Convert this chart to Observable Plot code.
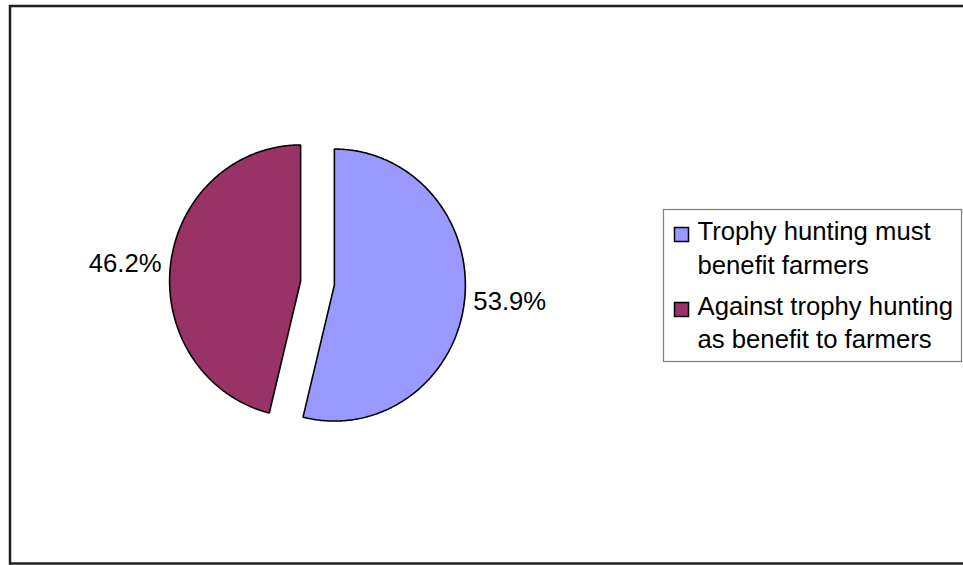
<!DOCTYPE html>
<html><head><meta charset="utf-8">
<script src="https://cdn.jsdelivr.net/npm/d3@7"></script>
<script src="https://cdn.jsdelivr.net/npm/@observablehq/plot@0.6"></script>
<style>body{margin:0;background:#fff} svg{display:block}</style>
</head><body><div id="chart"></div>
<script>
const categories = ["Trophy hunting must benefit farmers", "Against trophy hunting as benefit to farmers"];
const legendLabels = ["Trophy hunting must\nbenefit farmers", "Against trophy hunting\nas benefit to farmers"];
const values = [53.9, 46.2];
const colors = ["#9999FF", "#993366"];

// layout
const W = 963, H = 565;
const cx = 317, cy = 282.5, rx = 131, ry = 136, explode = 17, labelDist = 140;
const fontSize = 25.7;

const total = d3.sum(values);
let acc = 0;
const slices = values.map((v, i) => {
  const a0 = acc / total * 2 * Math.PI; acc += v;
  const a1 = acc / total * 2 * Math.PI;
  const mid = (a0 + a1) / 2;
  const ox = cx + explode * Math.sin(mid), oy = cy - explode * Math.cos(mid);
  return {i, cat: categories[i], v, a0, a1, mid, ox, oy};
});
const pts = [];
for (const s of slices) {
  pts.push({cat: s.cat, x: s.ox, y: s.oy});
  const n = Math.ceil((s.a1 - s.a0) / (Math.PI / 360));
  for (let k = 0; k <= n; k++) {
    const a = s.a0 + (s.a1 - s.a0) * k / n;
    pts.push({cat: s.cat, x: s.ox + rx * Math.sin(a), y: s.oy - ry * Math.cos(a)});
  }
  pts.push({cat: s.cat, x: s.ox, y: s.oy});
}
const labels = slices.map(s => ({
  x: s.ox + labelDist * Math.sin(s.mid),
  y: s.oy - labelDist * Math.cos(s.mid),
  anchor: Math.sin(s.mid) >= 0 ? "start" : "end",
  text: s.v.toFixed(1) + "%"
}));

const legX = 663.5, legY = 209.5, legX2 = 961.5, legY2 = 361.5;
const legend = categories.map((c, i) => ({
  cat: c, label: legendLabels[i],
  sx1: 674.5, sx2: 688.5, sy1: 227.5 + i * 75, sy2: 241.5 + i * 75,
  tx: 697, ty: 273 + i * 74.5
}));

const chart = Plot.plot({
  width: W, height: H,
  margin: 0,
  style: {fontFamily: "'Liberation Sans', Arial, sans-serif", background: "white"},
  x: {domain: [0, W], range: [0, W], axis: null},
  y: {domain: [0, H], range: [0, H], axis: null},
  color: {domain: categories, range: colors},
  marks: [
    Plot.rect([{x1: 10, y1: 6, x2: 990, y2: 563.5}], {x1: "x1", x2: "x2", y1: "y1", y2: "y2", fill: "none", stroke: "#1e1e1e", strokeWidth: 2.5}),
    Plot.line(pts, {x: "x", y: "y", z: "cat", fill: "cat", stroke: "black", strokeWidth: 1.6, strokeLinejoin: "miter", curve: "linear"}),
    Plot.text(labels.filter(d => d.anchor === "start"), {x: "x", y: "y", text: "text", textAnchor: "start", fontSize, fill: "black"}),
    Plot.text(labels.filter(d => d.anchor === "end"), {x: "x", y: "y", text: "text", textAnchor: "end", fontSize, fill: "black"}),
    Plot.rect([{x1: legX, y1: legY, x2: legX2, y2: legY2}], {x1: "x1", x2: "x2", y1: "y1", y2: "y2", fill: "white", stroke: "#7f7f7f", strokeWidth: 1.2}),
    Plot.rect(legend, {x1: "sx1", x2: "sx2", y1: "sy1", y2: "sy2", fill: "cat", stroke: "black", strokeWidth: 1.5}),
    Plot.text(legend, {x: "tx", y: "ty", text: "label", textAnchor: "start", lineAnchor: "bottom", lineHeight: 1.3, fontSize, fill: "black"})
  ]
});
document.getElementById("chart").appendChild(chart);
</script>
</body></html>
